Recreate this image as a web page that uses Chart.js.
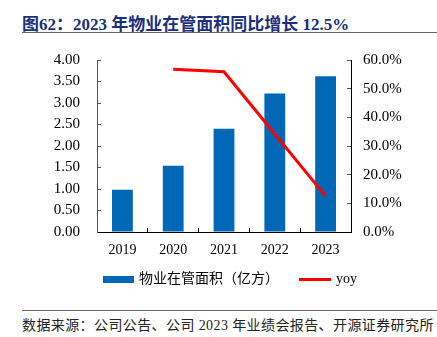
<!DOCTYPE html>
<html>
<head>
<meta charset="utf-8">
<script src="https://cdn.jsdelivr.net/npm/chart.js@4"></script>
<style>
  html, body { margin: 0; padding: 0; background: #fff; }
  body { width: 437px; height: 337px; position: relative; overflow: hidden; }
  #title {
    position: absolute; left: 22px; top: 10px;
    font: bold 17px "Liberation Serif", "Noto Sans CJK SC", serif;
    color: #1b2f7d; white-space: nowrap;
  }
  .rule { position: absolute; left: 22px; right: 0; height: 1px; background: #666; }
  #source {
    position: absolute; left: 22px; top: 314px;
    font: 14px "Liberation Serif", "Noto Sans CJK SC", serif;
    letter-spacing: 0.4px; color: #222; white-space: nowrap;
  }
  #box { position: absolute; left: 0; top: 40px; width: 437px; height: 260px; }
</style>
</head>
<body>
<div id="title">图62：2023 年物业在管面积同比增长 12.5%</div>
<div class="rule" style="top:32px"></div>
<div id="box"><canvas id="c"></canvas></div>
<div class="rule" style="top:310px"></div>
<div id="source">数据来源：公司公告、公司 2023 年业绩会报告、开源证券研究所</div>
<script>
/* ---------- data ---------- */
const years = ["2019", "2020", "2021", "2022", "2023"];
const area  = [0.98, 1.54, 2.40, 3.22, 3.62];          // 亿方
const yoy   = [null, 56.8, 55.9, 34.2, 12.5];           // %

const BLUE = "#0068b7";
const RED  = "#ff0000";
const SERIF = '"Liberation Serif", "Times New Roman", serif';

/* legend markers */
function marker(w, h, color) {
    const cv = document.createElement("canvas");
    cv.width = w; cv.height = h;
    const g = cv.getContext("2d");
    g.fillStyle = color;
    g.fillRect(0, 0, w, h);
    return cv;
}

/* nudge the legend a bit right and up, like the original */
const legendShift = {
    id: "legendShift",
    afterLayout(chart) {
        const lg = chart.legend;
        lg.left += 24;
        lg.top -= 4;
        lg.bottom -= 4;
    }
};

/* fixed axis widths, no extra label padding above/below */
const fixWidth = w => s => {
    s.width = w;
    s.paddingTop = 0;
    s.paddingBottom = 0;
};

new Chart(document.getElementById("c"), {
    data: {
        labels: years,
        datasets: [
            {
                type: "bar",
                label: "物业在管面积（亿方）",
                data: area,
                backgroundColor: BLUE,
                categoryPercentage: 1,
                barPercentage: 0.41,
                yAxisID: "y",
                pointStyle: marker(31, 7, BLUE),
                order: 2
            },
            {
                type: "line",
                label: "yoy",
                data: yoy,
                borderColor: RED,
                borderWidth: 3,
                pointRadius: 0,
                tension: 0,
                yAxisID: "y1",
                pointStyle: marker(32, 3, RED),
                order: 1
            }
        ]
    },
    options: {
        responsive: true,
        maintainAspectRatio: false,
        animation: false,
        layout: { padding: { top: 20, left: 0, right: 0, bottom: 0 } },
        scales: {
            x: {
                offset: true,
                grid: { offset: true, drawOnChartArea: false, tickLength: -4, color: "#000" },
                border: { color: "#000" },
                ticks: { color: "#000", padding: 14, font: { family: SERIF, size: 14 } },
                afterFit: s => { s.height = 22; }
            },
            y: {
                position: "left",
                min: 0, max: 4,
                grid: { drawOnChartArea: false, tickLength: -4, color: "#555" },
                border: { color: "#555" },
                ticks: {
                    stepSize: 0.5, autoSkip: false, color: "#000", padding: 21,
                    font: { family: SERIF, size: 15 },
                    callback: v => v.toFixed(2)
                },
                afterFit: fixWidth(97)
            },
            y1: {
                position: "right",
                min: 0, max: 60,
                grid: { drawOnChartArea: false, tickLength: -4, color: "#555" },
                border: { color: "#000" },
                ticks: {
                    stepSize: 10, autoSkip: false, color: "#000", padding: 16,
                    font: { family: SERIF, size: 15 },
                    callback: v => v.toFixed(1) + "%"
                },
                afterFit: fixWidth(86)
            }
        },
        plugins: {
            legend: {
                position: "bottom",
                labels: {
                    usePointStyle: true,
                    pointStyleWidth: 28,
                    color: "#000",
                    padding: 22,
                    font: { family: '"Liberation Serif", "Noto Sans CJK SC", serif', size: 14 },
                    sort: (a, b) => a.datasetIndex - b.datasetIndex
                }
            },
            tooltip: { enabled: false }
        }
    },
    plugins: [legendShift]
});
</script>
</body>
</html>
